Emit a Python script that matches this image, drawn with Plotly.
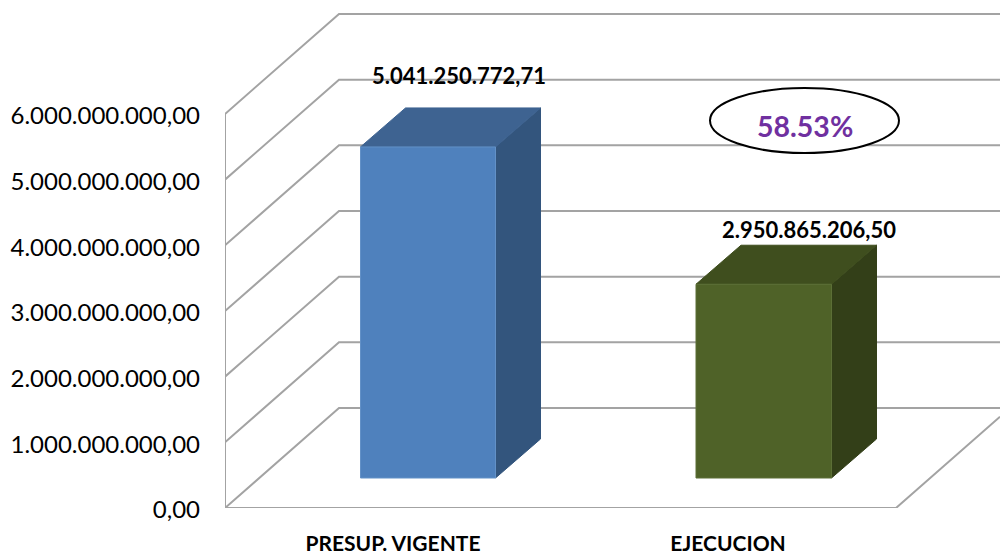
import plotly.graph_objects as go

categories = ["PRESUP. VIGENTE", "EJECUCION"]
values = [5041250772.71, 2950865206.50]
value_labels = ["5.041.250.772,71", "2.950.865.206,50"]
y_ticks = [0, 1e9, 2e9, 3e9, 4e9, 5e9, 6e9]
y_tick_labels = ["0,00", "1.000.000.000,00", "2.000.000.000,00", "3.000.000.000,00",
                 "4.000.000.000,00", "5.000.000.000,00", "6.000.000.000,00"]
ratio_label = "58.53%"

# layout / style (pixel-like horizontal units; value units vertically)
W, H = 1000, 555
AX_L, AX_B = 225, 47
PX = 65.67e-9              # pixels per value unit
def dy(px):
    return px / PX
Y_TOP = dy(H - AX_B)
FLOOR_R = 896
WALL_DX, WALL_DY = 114, dy(100)
BAR_X = [(360.5, 495.5), (696, 831.5)]
BAR_BASE = dy(30)
BAR_DX, BAR_DY = 45, dy(39)
FRONT = ["#4F81BD", "#4F6228"]
TOPC = ["#3E6391", "#3F4E1E"]
SIDE = ["#33557D", "#333F18"]
EDGE = ["#6391C7", "#5C6F36"]
GRID = "#A3A3A3"
LABEL_POS = [(458.5, 71), (808.5, 55)]
CAT_X = [393, 728]

fig = go.Figure()

def poly(xs, ys, fill, line=None):
    fig.add_trace(go.Scatter(x=xs, y=ys, mode="lines", fill="toself", fillcolor=fill,
                             line=dict(color=line or fill, width=1), hoverinfo="skip",
                             showlegend=False, cliponaxis=False))

def gline(xs, ys):
    fig.add_trace(go.Scatter(x=xs, y=ys, mode="lines", line=dict(color=GRID, width=2),
                             hoverinfo="skip", showlegend=False, cliponaxis=False))

# walls
for v in y_ticks:
    gline([AX_L, AX_L + WALL_DX, W], [v, v + WALL_DY, v + WALL_DY])
gline([AX_L, AX_L], [0, y_ticks[-1]])
gline([AX_L, FLOOR_R, W], [0, 0, WALL_DY * (W - FLOOR_R) / WALL_DX])

# bars
for i, v in enumerate(values):
    x0, x1 = BAR_X[i]
    top = BAR_BASE + v
    poly([x1, x1 + BAR_DX, x1 + BAR_DX, x1, x1],
         [BAR_BASE, BAR_BASE + BAR_DY, top + BAR_DY, top, BAR_BASE], SIDE[i])
    poly([x0, x0 + BAR_DX, x1 + BAR_DX, x1, x0],
         [top, top + BAR_DY, top + BAR_DY, top, top], TOPC[i])
    poly([x0, x1, x1, x0, x0], [BAR_BASE, BAR_BASE, top, top, BAR_BASE], FRONT[i], EDGE[i])
    lx, off = LABEL_POS[i]
    fig.add_annotation(x=lx, y=top + dy(off), text="<b>%s</b>" % value_labels[i], showarrow=False,
                       font=dict(family="Lato", size=22, color="#000000"), xanchor="center", yanchor="middle")

# ratio callout
fig.add_shape(type="circle", xref="x", yref="y", x0=710, x1=899, y0=dy(508 - 153), y1=dy(508 - 88),
              line=dict(color="#000000", width=2), fillcolor="#FFFFFF", layer="above")
fig.add_annotation(x=804.5, y=dy(508 - 126), text="<b>%s</b>" % ratio_label, showarrow=False,
                   font=dict(family="Lato", size=28.5, color="#7030A0"), xanchor="center", yanchor="middle")

fig.update_layout(
    width=W, height=H, autosize=False,
    margin=dict(l=AX_L, r=0, t=0, b=AX_B, pad=0),
    paper_bgcolor="#FFFFFF", plot_bgcolor="#FFFFFF", showlegend=False,
    xaxis=dict(range=[AX_L, W], showgrid=False, zeroline=False, showline=False,
               tickmode="array", tickvals=CAT_X, ticktext=["<b>%s</b>" % c for c in categories],
               ticks="", ticklabelstandoff=21, tickangle=0,
               tickfont=dict(family="Lato", size=21, color="#000000")),
    yaxis=dict(range=[0, Y_TOP], showgrid=False, zeroline=False, showline=False,
               tickmode="array", tickvals=y_ticks, ticktext=y_tick_labels,
               ticks="", ticklabelstandoff=24, ticklabelshift=2,
               tickfont=dict(family="Lato", size=24, color="#000000")),
)
fig.write_html("out.html", config=dict(displayModeBar=False),
               post_script="document.body.style.margin='0';document.body.style.overflow='hidden';")
